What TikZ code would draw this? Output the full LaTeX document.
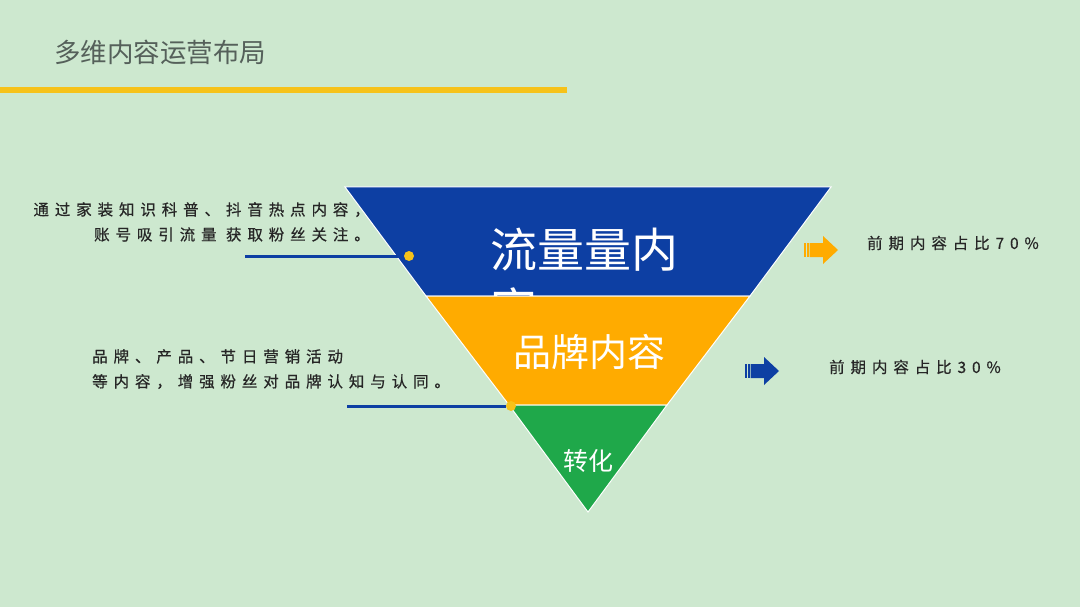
\documentclass[tikz,border=0pt]{standalone}
\usepackage{fontspec}
\setmainfont{Noto Sans CJK SC}
\newfontfamily\cjkwide[LetterSpace=38, FakeBold=0.6]{Noto Sans CJK SC}
\usetikzlibrary{positioning, calc}

\definecolor{bggreen}{HTML}{CDE8CF}
\definecolor{funnelblue}{HTML}{0D3FA3}
\definecolor{funnelorange}{HTML}{FFAB00}
\definecolor{funnelgreen}{HTML}{1FA84A}
\definecolor{linegold}{HTML}{F6C21A}
\definecolor{titlegray}{HTML}{55605A}
\definecolor{notegray}{HTML}{262626}

\tikzset{
    pics/stripearrow/.style={code={
        \fill[#1] (0,-7) rectangle (2,7);
        \fill[#1] (3,-7) rectangle (4.5,7);
        \fill[#1] (5.5,-7) -- (19,-7) -- (19,-14) -- (34,0) -- (19,14) -- (19,7) -- (5.5,7) -- cycle;
    }}
}

\begin{document}
\begin{tikzpicture}[
    x=1pt, y=-1pt,
    % Define styles for the different parts
    band/.style={draw=white, line width=1pt},
    notetext/.style={text=notegray, font=\cjkwide\fontsize{15.5}{25}\selectfont, inner sep=0pt},
    sharetext/.style={text=notegray, font=\cjkwide\fontsize{15.5}{20}\selectfont, inner sep=0pt, anchor=west},
    dot/.style={circle, fill=linegold, minimum size=10pt, inner sep=0pt},
    leader/.style={draw=funnelblue, line width=3pt},
]
% background
\fill[bggreen] (0,0) rectangle (1080,607);
\useasboundingbox (0,0) rectangle (1080,607);

% -------------------------
% Title
% -------------------------
\node (title) [anchor=west, inner sep=0pt, text=titlegray, font=\fontsize{26.5}{26.5}\selectfont] at (54,52) {多维内容运营布局};
\coordinate (rulestart) at (0,90);
\coordinate (ruleend) at (567,90);
\draw[linegold, line width=6pt] (rulestart) -- (ruleend);

% -------------------------
% Funnel
% -------------------------
\fill[funnelblue, band] (345,187) -- (831,187) -- (750,296) -- (426,296) -- cycle;
\node (traffic) [anchor=base west, inner sep=0pt, text=white, align=left, font=\fontsize{47}{60}\selectfont] at (490,327) {流量量内\\容};
\fill[funnelorange, band] (426,296) -- (750,296) -- (667,405) -- (509,405) -- cycle;
\fill[funnelgreen, band] (509,405) -- (667,405) -- (588,512) -- cycle;

\node (brand) [inner sep=0pt, text=white, font=\fontsize{38}{38}\selectfont] at (589,352) {品牌内容};
\node (convert) [inner sep=0pt, text=white, font=\fontsize{25}{25}\selectfont] at (588,461) {转化};

% -------------------------
% Left notes
% -------------------------
\node (note1) [notetext, align=right, anchor=north east] at (370,202) {通过家装知识科普、抖音热点内容，\\账号吸引流量 获取粉丝关注。};
\node (dot1) [dot] at (409,256) {};
\coordinate (lead1) at (245,256);
\draw[leader] (lead1) -- (dot1.west);

\node (note2) [notetext, align=left, anchor=north west] at (92,349) {品牌、产品、节日营销活动\\等内容，增强粉丝对品牌认知与认同。};
\node (dot2) [dot] at (511,406) {};
\coordinate (lead2) at (347,406);
\draw[leader] (lead2) -- (dot2.west);

% -------------------------
% Right shares
% -------------------------
\pic (arrow1) at (804,250) {stripearrow=funnelorange};
\node (share1) [sharetext] at (867,243) {前期内容占比70\%};

\pic (arrow2) at (745,371) {stripearrow=funnelblue};
\node (share2) [sharetext] at (829,367) {前期内容占比30\%};

\end{tikzpicture}
\end{document}
